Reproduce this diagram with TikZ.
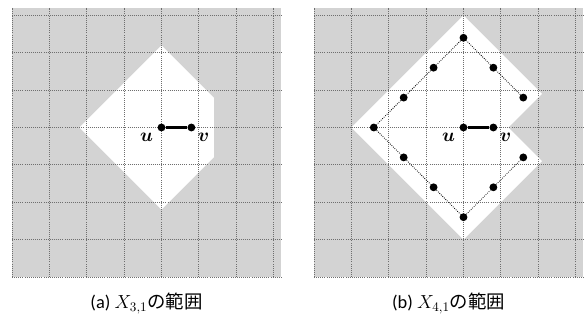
\documentclass[tikz,border=0pt]{standalone}
\usepackage{amsmath,amssymb,bm}
\usepackage{fontspec}
\setmainfont{Carlito}
\newfontfamily\jpfont{Noto Sans CJK JP}
\usetikzlibrary{positioning}
\definecolor{cellgray}{RGB}{211,211,211}
\definecolor{linegray}{RGB}{110,110,110}
\tikzset{
  gridline/.style={linegray,densely dotted,line width=0.6pt},
  vdot/.style={circle,fill=black,inner sep=0pt,minimum size=2.1mm},
  vlabel/.style={inner sep=0pt,font=\fontsize{15}{17}\selectfont},
  ringline/.style={densely dotted,line width=0.6pt},
  caption/.style={font=\fontsize{14}{16}\selectfont}
}

\begin{document}
\begin{tikzpicture}[x=0.8cm,y=0.8cm]
  \useasboundingbox (-0.401,-1.438) rectangle (19.164,9.264);
  % (a)
  \fill[cellgray] (0,0) rectangle (9,9);
  \fill[white] (5,7.75) -- (6.75,6) -- (6.75,4) -- (5,2.25) -- (2.25,5) -- cycle;
  \draw[gridline] (0,0) grid (9,9);
  \node[vdot] (u1) at (5,5) {};
  \node[vdot] (v1) at (6,5) {};
  \draw[line width=1.8pt] (u1) -- (v1);
  \node[vlabel,below left=0.6mm and 1.4mm of u1] (lu1) {$\bm{u}$};
  \node[vlabel,below right=0.6mm and 0.9mm of v1] (lv1) {$\bm{v}$};
  \node[caption] (capa) at (4.5,-0.9) {(a) $X_{3,1}$\jpfont の範囲};

  % (b)
  \begin{scope}[shift={(10.1,0)}]
    \fill[cellgray] (0,0) rectangle (9,9);
    \fill[white] (5,8.75) -- (7.625,6.125) -- (6.5,5) -- (7.625,3.875) -- (5,1.25) -- (1.25,5) -- cycle;
    \draw[gridline] (0,0) grid (9,9);
    \foreach \n/\x/\y in {1/7/6,2/6/7,3/5/8,4/4/7,5/3/6,6/2/5,7/3/4,8/4/3,9/5/2,10/6/3,11/7/4}
      \node[vdot] (r\n) at (\x,\y) {};
    \draw[ringline] (r1) -- (r2) -- (r3) -- (r4) -- (r5) -- (r6) -- (r7) -- (r8) -- (r9) -- (r10) -- (r11);
    \node[vdot] (u2) at (5,5) {};
    \node[vdot] (v2) at (6,5) {};
    \draw[line width=1.8pt] (u2) -- (v2);
    \node[vlabel,below left=0.6mm and 1.4mm of u2] (lu2) {$\bm{u}$};
    \node[vlabel,below right=0.6mm and 0.9mm of v2] (lv2) {$\bm{v}$};
    \node[caption] (capb) at (4.5,-0.9) {(b) $X_{4,1}$\jpfont の範囲};
  \end{scope}
\end{tikzpicture}
\end{document}
